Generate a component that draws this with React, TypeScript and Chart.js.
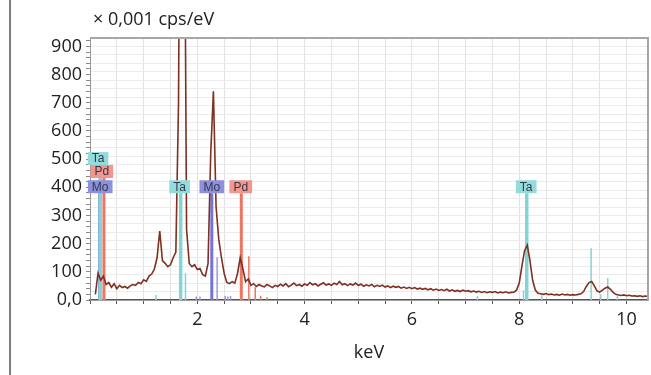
import React, { useEffect, useRef } from "react";
import { Chart, registerables } from "chart.js";

Chart.register(...registerables);

// ---- data ----
const START_KEV = 0.1;
const STEP_KEV = 0.05;
// counts ×0.001 cps/eV, one per 0.05 keV from 0.10 keV to 10.40 keV
const COUNTS = [
  20, 95, 70, 85, 55, 62, 45, 58, 40, 52, // 0.10-0.55
  44, 48, 42, 50, 55, 52, 62, 58, 72, 66, // 0.60-1.05
  85, 92, 110, 150, 245, 140, 130, 118, 125, 150, // 1.10-1.55
  170, 700, 2400, 1900, 250, 130, 118, 125, 108, 112, // 1.60-2.05
  90, 85, 130, 520, 741, 330, 215, 150, 95, 62, // 2.10-2.55
  58, 65, 60, 95, 150, 110, 65, 75, 52, 58, // 2.60-3.05
  48, 55, 50, 47, 55, 50, 44, 52, 48, 56, // 3.10-3.55
  50, 58, 47, 53, 60, 51, 55, 49, 57, 52, // 3.60-4.05
  62, 54, 58, 50, 56, 61, 53, 57, 52, 60, // 4.10-4.55
  55, 66, 54, 58, 51, 57, 53, 60, 52, 56, // 4.60-5.05
  49, 54, 50, 55, 47, 52, 48, 53, 46, 50, // 5.10-5.55
  44, 49, 45, 48, 42, 46, 41, 45, 40, 44, // 5.60-6.05
  39, 42, 38, 41, 36, 40, 35, 39, 34, 37, // 6.10-6.55
  33, 38, 32, 36, 31, 34, 30, 35, 31, 33, // 6.60-7.05
  29, 32, 28, 31, 27, 30, 26, 29, 27, 30, // 7.10-7.55
  25, 28, 26, 29, 25, 27, 28, 35, 60, 120, // 7.60-8.05
  175, 195, 140, 70, 35, 24, 22, 20, 23, 19, // 8.10-8.55
  21, 18, 20, 17, 21, 18, 20, 17, 19, 18, // 8.60-9.05
  20, 22, 30, 48, 62, 66, 50, 32, 28, 35, // 9.10-9.55
  42, 46, 38, 27, 20, 18, 16, 18, 15, 17, // 9.60-10.05
  14, 15, 13, 15, 12, 14, 13, // 10.10-10.40
];

const Y_TICK_LABELS = ["0,0", "100", "200", "300", "400", "500", "600", "700", "800", "900"];
const X_TICK_LABELS = ["2", "4", "6", "8", "10"];
const X_LABELED_VALUES = [2, 4, 6, 8, 10];

// element marker lines (keV, top value)
const TA_MAJOR_KEV = [0.19, 1.69, 8.14];
const TA_MAJOR_TOP = [479, 379, 379];
const PD_MAJOR_KEV = [0.26, 2.82];
const PD_MAJOR_TOP = [433, 379];
const MO_MAJOR_KEV = [0.18, 2.27];
const MO_MAJOR_TOP = [379, 379];

const TA_MINOR_KEV = [1.23, 1.78, 7.22, 8.08, 8.42, 9.34, 9.52, 9.65, 9.83];
const TA_MINOR_TOP = [18, 95, 14, 35, 16, 184, 20, 78, 14];
const MO_MINOR_KEV = [1.98, 2.05, 2.37, 2.52, 2.57, 2.62];
const MO_MINOR_TOP = [12, 12, 152, 14, 12, 14];
const PD_MINOR_KEV = [2.96, 3.08, 3.18, 3.3];
const PD_MINOR_TOP = [155, 45, 15, 10];

// element label boxes
const LABEL_TEXT = ["Ta", "Pd", "Mo", "Ta", "Mo", "Pd", "Ta"];
const LABEL_KEV = [0.15, 0.22, 0.19, 1.67, 2.27, 2.81, 8.13];
const LABEL_BOTTOM = [479, 433, 379, 379, 379, 379, 379];
const LABEL_ELEMENT = ["Ta", "Pd", "Mo", "Ta", "Mo", "Pd", "Ta"];

const ELEMENT_BOX: Record<string, string> = { Ta: "#93dcdc", Pd: "#f3968e", Mo: "#8d90dd" };
const ELEMENT_LINE: Record<string, string> = { Ta: "#84d4d6", Pd: "#ea7663", Mo: "#7373d8" };

const FONT = "'Open Sans', Roboto, sans-serif";

function markerData(kev: number[], tops: number[]) {
  const out: any[] = [];
  kev.forEach((k, i) => {
    out.push({ x: k, y: 0 });
    out.push({ x: k, y: tops[i] });
    out.push({ x: k, y: null });
  });
  return out;
}

export default function App() {
  const ref = useRef<HTMLCanvasElement | null>(null);

  useEffect(() => {
    if (!ref.current) return;
    const spectrum = COUNTS.map((c, i) => ({ x: +(START_KEV + i * STEP_KEV).toFixed(2), y: c }));

    const decor = {
      id: "decor",
      beforeDraw(chart: any) {
        const ctx = chart.ctx;
        ctx.save();
        ctx.fillStyle = "#ffffff";
        ctx.fillRect(0, 0, chart.width, chart.height);
        ctx.strokeStyle = "#555555";
        ctx.lineWidth = 1.5;
        ctx.beginPath();
        ctx.moveTo(10, 0);
        ctx.lineTo(10, chart.height);
        ctx.stroke();
        ctx.restore();
      },
      afterDatasetsDraw(chart: any) {
        const ctx = chart.ctx;
        const { left, top, right, bottom } = chart.chartArea;
        const xs = chart.scales.x;
        const ys = chart.scales.y;
        ctx.save();
        // plot frame
        ctx.strokeStyle = "#a9a6a4";
        ctx.lineWidth = 2;
        ctx.beginPath();
        ctx.moveTo(left, top);
        ctx.lineTo(right, top);
        ctx.lineTo(right, bottom);
        ctx.stroke();
        ctx.strokeStyle = "#999999";
        ctx.lineWidth = 1;
        ctx.beginPath();
        ctx.moveTo(left + 0.5, top);
        ctx.lineTo(left + 0.5, bottom);
        ctx.stroke();
        // label boxes
        ctx.font = "12px 'Liberation Sans', Arial, sans-serif";
        ctx.textAlign = "center";
        ctx.textBaseline = "middle";
        LABEL_TEXT.forEach((t, i) => {
          const cx = xs.getPixelForValue(LABEL_KEV[i]);
          const by = ys.getPixelForValue(LABEL_BOTTOM[i]);
          const w = ctx.measureText(t).width + 8;
          const h = 13;
          ctx.fillStyle = ELEMENT_BOX[LABEL_ELEMENT[i]];
          ctx.fillRect(cx - w / 2, by - h, w, h);
          ctx.fillStyle = "#34384a";
          ctx.fillText(t, cx, by - h / 2 + 0.5);
        });
        // unit label
        ctx.font = `18px ${FONT}`;
        ctx.textAlign = "left";
        ctx.textBaseline = "middle";
        ctx.fillStyle = "#222222";
        ctx.fillText("× 0,001 cps/eV", left + 3, 20);
        ctx.restore();
      },
    };

    const markerDs = (kev: number[], tops: number[], color: string, width: number) => ({
      type: "line",
      data: markerData(kev, tops),
      borderColor: color,
      borderWidth: width,
      pointRadius: 0,
      spanGaps: false,
      tension: 0,
    });

    const chart = new Chart(ref.current, {
      type: "line",
      data: {
        datasets: [
          {
            data: spectrum,
            borderColor: "#7e3022",
            borderWidth: 1.6,
            pointRadius: 0,
            tension: 0,
          } as any,
          markerDs(TA_MAJOR_KEV, TA_MAJOR_TOP, ELEMENT_LINE.Ta, 3.5),
          markerDs(PD_MAJOR_KEV, PD_MAJOR_TOP, ELEMENT_LINE.Pd, 3),
          markerDs(MO_MAJOR_KEV, MO_MAJOR_TOP, ELEMENT_LINE.Mo, 3),
          markerDs(TA_MINOR_KEV, TA_MINOR_TOP, ELEMENT_LINE.Ta, 1.5),
          markerDs(MO_MINOR_KEV, MO_MINOR_TOP, "#9a9ae4", 1.5),
          markerDs(PD_MINOR_KEV, PD_MINOR_TOP, ELEMENT_LINE.Pd, 1.5),
        ] as any,
      },
      options: {
        responsive: false,
        animation: false,
        devicePixelRatio: 1,
        layout: { padding: { left: 0, right: 3, top: 38, bottom: 0 } },
        plugins: { legend: { display: false }, tooltip: { enabled: false }, title: { display: false } },
        scales: {
          x: {
            type: "linear",
            min: 0,
            max: 10.4,
            afterFit: (s: any) => {
              s.height = 75;
            },
            ticks: {
              stepSize: 0.5,
              includeBounds: false,
              autoSkip: false,
              maxRotation: 0,
              padding: 5,
              color: "#222222",
              font: { family: FONT, size: 18 },
              callback: (v: any) => {
                const idx = X_LABELED_VALUES.findIndex((t) => Math.abs(t - Number(v)) < 1e-6);
                return idx >= 0 ? X_TICK_LABELS[idx] : "";
              },
            },
            grid: { color: "#e2e2e2", tickColor: "#555555", tickLength: 4, lineWidth: 1 },
            border: { color: "#555555", width: 1.5 },
            title: {
              display: true,
              text: "keV",
              color: "#222222",
              font: { family: FONT, size: 18 },
              padding: { top: 0, bottom: 11 },
            },
          },
          y: {
            type: "linear",
            position: "left",
            min: 0,
            max: 930,
            afterFit: (s: any) => {
              s.width = 90;
            },
            ticks: {
              stepSize: 20,
              includeBounds: false,
              autoSkip: false,
              padding: 4,
              color: "#222222",
              font: { family: FONT, size: 18 },
              callback: (v: any) => {
                const n = Number(v);
                return n % 100 === 0 ? Y_TICK_LABELS[n / 100] : "";
              },
            },
            grid: { drawOnChartArea: false, tickColor: "#8a8a8a", tickLength: 4 },
            border: { color: "#888888", width: 1 },
          },
          yg: {
            type: "linear",
            position: "right",
            min: 0,
            max: 930,
            afterFit: (s: any) => {
              s.width = 0;
            },
            ticks: { display: false, stepSize: 30, includeBounds: false },
            grid: { color: "#ececec", drawTicks: false },
            border: { display: false },
          },
        },
      } as any,
      plugins: [decor],
    });
    return () => chart.destroy();
  }, []);

  return (
    <div style={{ position: "fixed", left: 0, top: 0, width: 651, height: 375, background: "#fff" }}>
      <canvas ref={ref} width={651} height={375} style={{ width: 651, height: 375, display: "block" }} />
    </div>
  );
}
